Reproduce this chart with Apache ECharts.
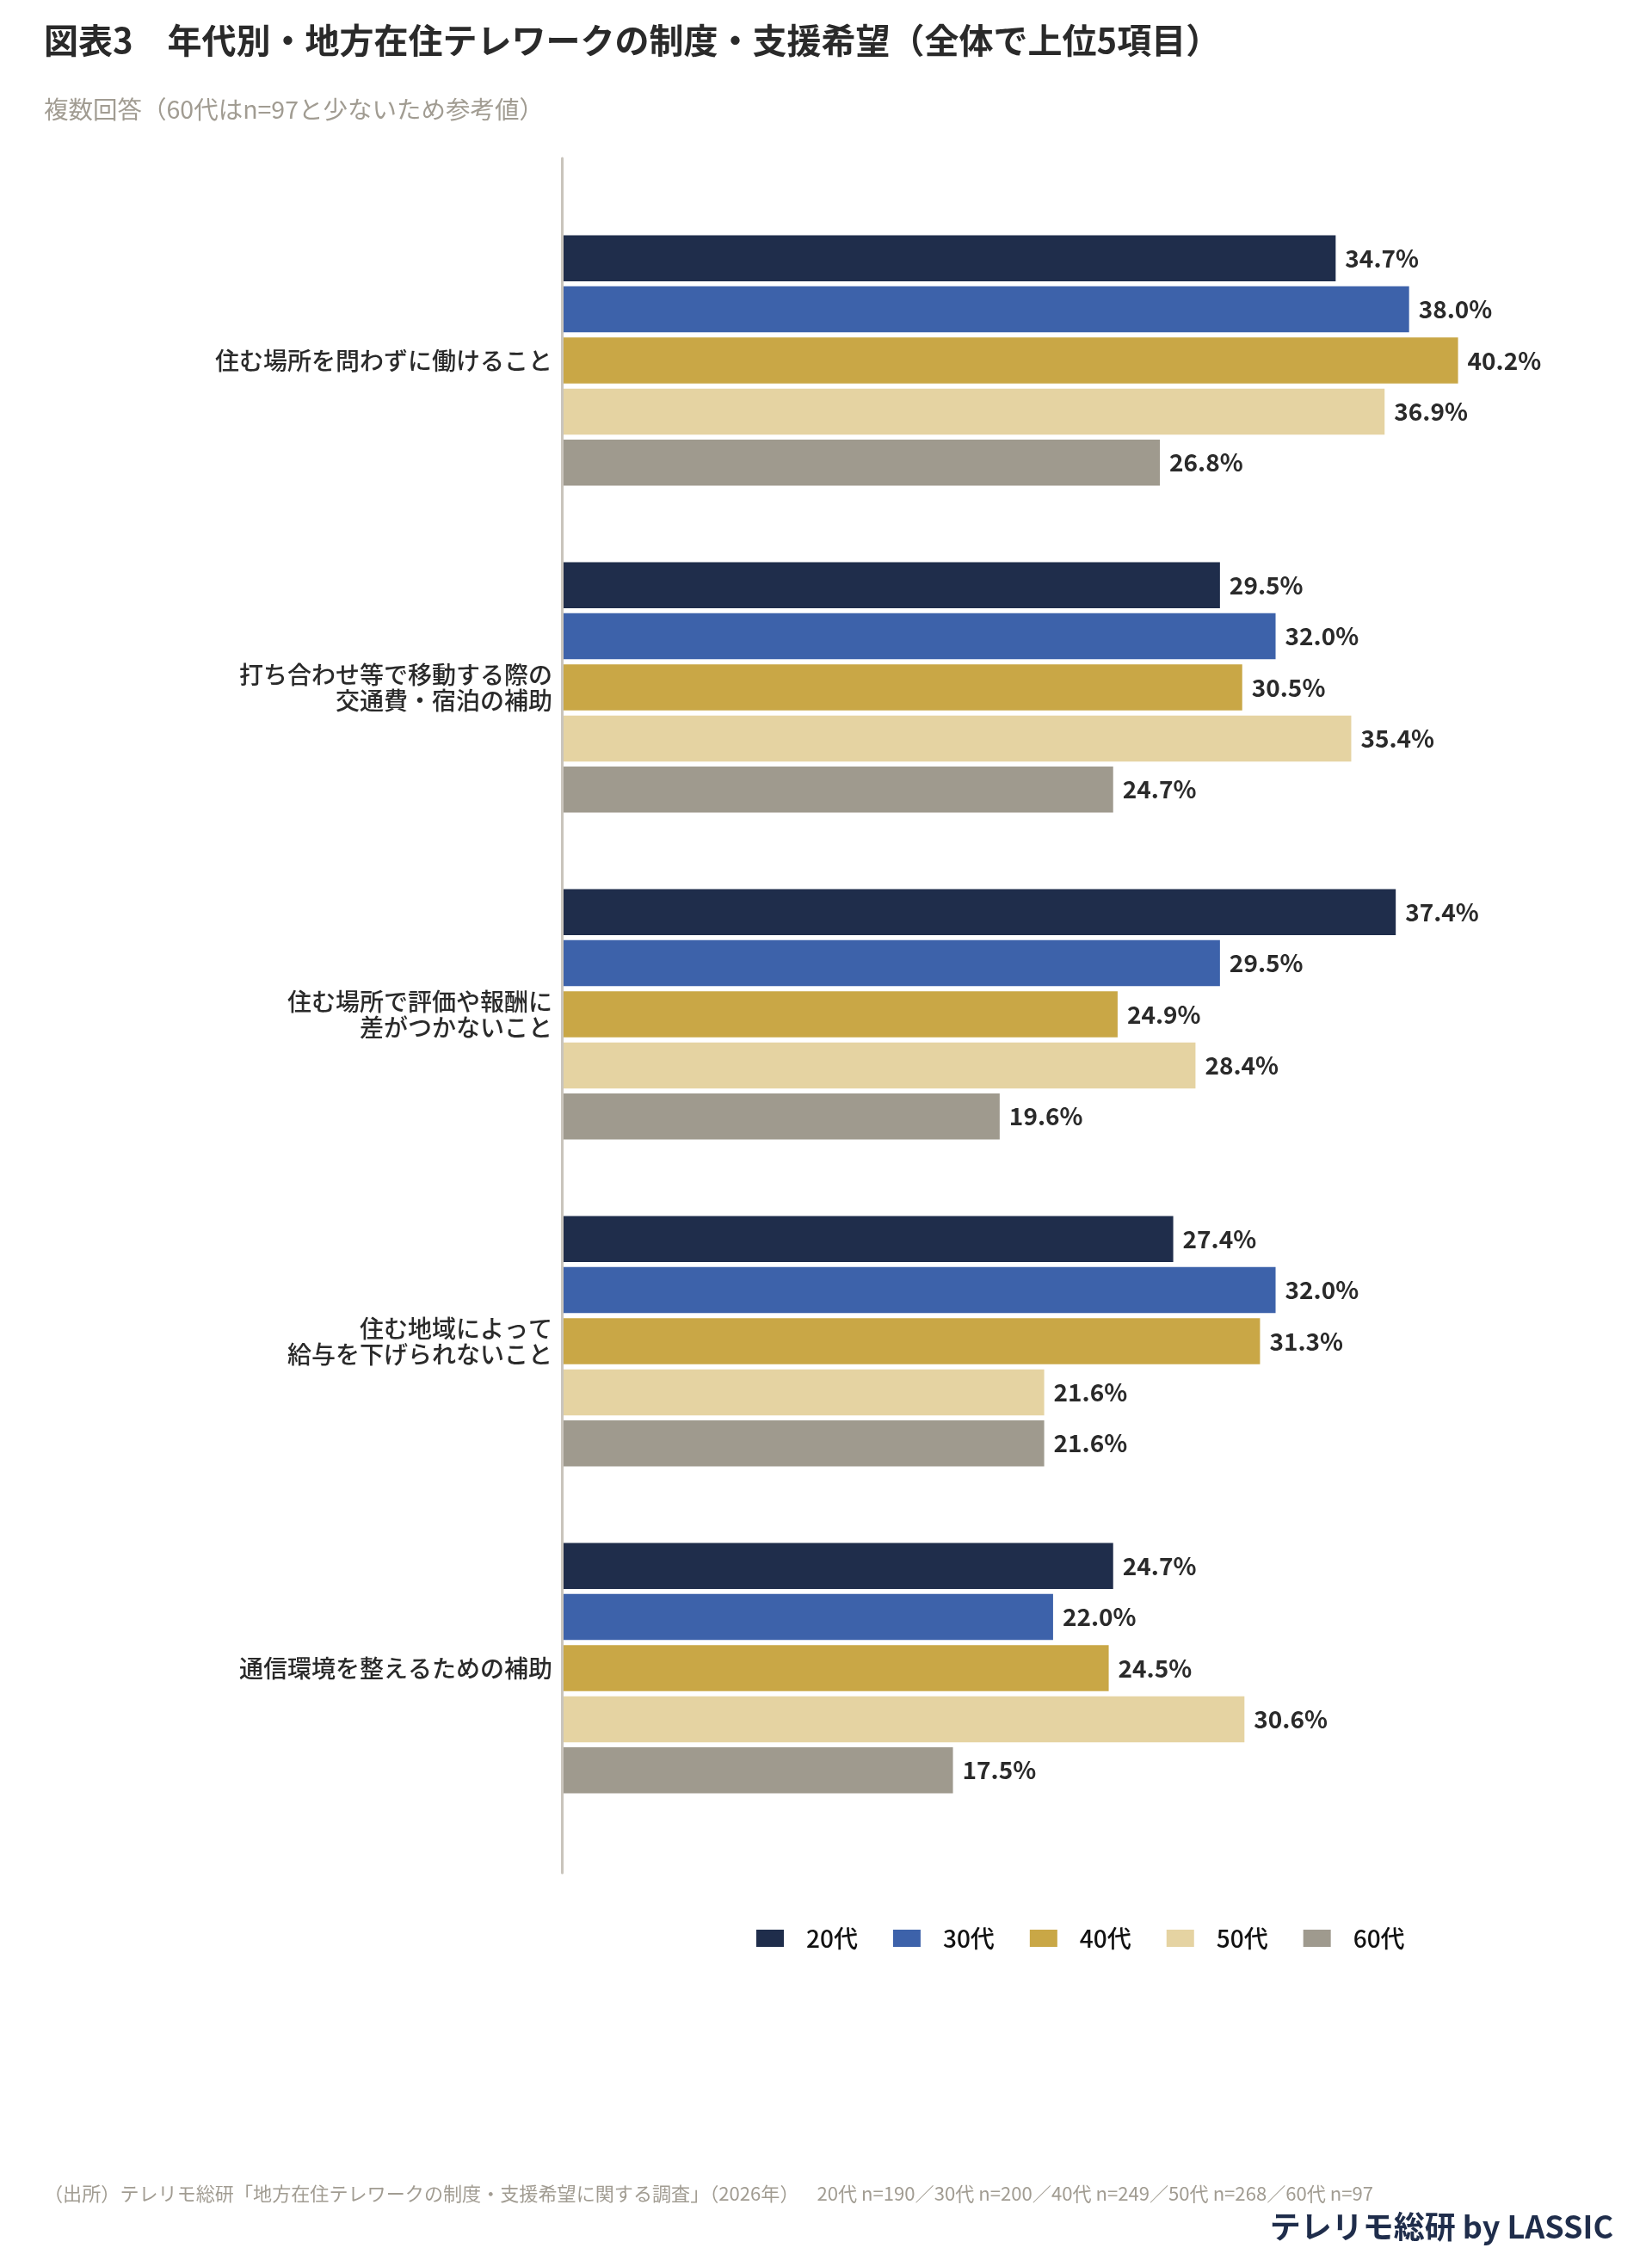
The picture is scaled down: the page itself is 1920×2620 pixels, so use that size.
<!DOCTYPE html>
<html>
<head>
<meta charset="utf-8">
<script src="https://cdn.jsdelivr.net/npm/echarts@6/dist/echarts.min.js"></script>
<style>
  html, body { margin: 0; padding: 0; background: #fff; }
  #main { width: 1920px; height: 2620px; }
</style>
</head>
<body>
<div id="main"></div>
<script>
// 項目（上から順）
var categories = [
  '住む場所を問わずに働けること',
  '打ち合わせ等で移動する際の\n交通費・宿泊の補助',
  '住む場所で評価や報酬に\n差がつかないこと',
  '住む地域によって\n給与を下げられないこと',
  '通信環境を整えるための補助'
];
var ageNames = ['20代', '30代', '40代', '50代', '60代'];
var ageColors = ['#1f2d4b', '#3d62aa', '#c9a746', '#e5d3a2', '#9f9a8e'];
// 各年代の回答率(%)
var s20 = [34.7, 29.5, 37.4, 27.4, 24.7];
var s30 = [38.0, 32.0, 29.5, 32.0, 22.0];
var s40 = [40.2, 30.5, 24.9, 31.3, 24.5];
var s50 = [36.9, 35.4, 28.4, 21.6, 30.6];
var s60 = [26.8, 24.7, 19.6, 21.6, 17.5];
var seriesData = [s20, s30, s40, s50, s60];

(function () {
  var font = '"Noto Sans CJK JP", "Noto Sans", sans-serif';
  //実例化echarts
  var myChart = echarts.init(document.getElementById('main'));

  var series = [];
  for (var i = 0; i < ageNames.length; i++) {
    series.push({
      name: ageNames[i],
      type: 'bar',
      xAxisIndex: 0,
      yAxisIndex: 0,
      barWidth: 53.5,
      barGap: '11%',
      itemStyle: { color: ageColors[i] },
      label: {
        show: true,
        position: 'right',
        distance: 11,
        fontFamily: font,
        fontSize: 28,
        fontWeight: 'bold',
        color: '#2a2a2a',
        formatter: function (p) {
          return p.value.toFixed(1) + '%';
        }
      },
      data: seriesData[i]
    });
  }

  var option = {
    backgroundColor: '#ffffff',
    animation: false,
    textStyle: { fontFamily: font },
    title: [
      {
        text: '図表3　年代別・地方在住テレワークの制度・支援希望（全体で上位5項目）',
        left: 46,
        top: 22,
        textStyle: { fontFamily: font, fontSize: 40, fontWeight: 'bold', color: '#2a2a2a' }
      },
      {
        text: '複数回答（60代はn=97と少ないため参考値）',
        left: 46,
        top: 108,
        textStyle: { fontFamily: font, fontSize: 28.5, fontWeight: 'normal', color: '#a19c92' }
      },
      {
        text: '（出所）テレリモ総研「地方在住テレワークの制度・支援希望に関する調査」（2026年）　  20代 n=190／30代 n=200／40代 n=249／50代 n=268／60代 n=97',
        left: 46,
        top: 2534,
        textStyle: { fontFamily: font, fontSize: 22.1, fontWeight: 'normal', color: '#a19c92' }
      },
      {
        text: 'テレリモ総研 by LASSIC',
        right: 40,
        top: 2565,
        textStyle: { fontFamily: font, fontSize: 36, fontWeight: 'bold', color: '#1f2d4b' }
      }
    ],
    legend: {
      data: ageNames,
      left: 874,
      top: 2234,
      icon: 'rect',
      itemWidth: 32,
      itemHeight: 20,
      itemGap: 41,
      textStyle: { fontFamily: font, fontSize: 28, fontWeight: 500, color: '#111', padding: [0, 0, 0, 21] }
    },
    grid: [
      { left: 655, top: 229, width: 1165, height: 1900 },
      // 縦の軸線用
      { left: 653, top: 184, width: 1, height: 1993 }
    ],
    xAxis: [
      {
        type: 'value',
        gridIndex: 0,
        min: 0,
        max: 45.05,
        show: false
      },
      {
        type: 'value',
        gridIndex: 1,
        show: false
      }
    ],
    yAxis: [
      {
        type: 'category',
        gridIndex: 0,
        inverse: true,
        data: categories,
        axisLine: { show: false },
        axisTick: { show: false },
        axisLabel: {
          margin: 13,
          fontFamily: font,
          fontSize: 28,
          fontWeight: 500,
          lineHeight: 30,
          color: '#2a2a2a',
          align: 'right'
        }
      },
      {
        type: 'value',
        gridIndex: 1,
        axisLine: { show: true, lineStyle: { color: '#c9c4bc', width: 3 } },
        axisTick: { show: false },
        axisLabel: { show: false },
        splitLine: { show: false }
      }
    ],
    series: series
  };

  if (option && typeof option === 'object') {
    myChart.setOption(option);
  }
  window.addEventListener('resize', function () {
    myChart.resize();
  });
})();
</script>
</body>
</html>
